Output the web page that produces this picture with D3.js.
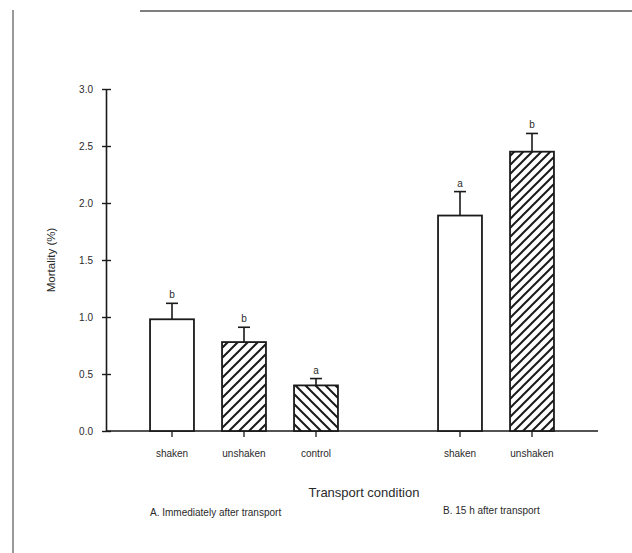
<!DOCTYPE html>
<html>
<head>
<meta charset="utf-8">
<script src="https://cdn.jsdelivr.net/npm/d3@7"></script>
<style>
    body { margin: 0; background: #fff; }
    svg { display: block; }
    text { font-family: "Liberation Sans", Arial, sans-serif; fill: #2a2a2a; }
</style>
</head>
<body>
<div id="chart"></div>
<script>
// data
var categories = ['A-shaken', 'A-unshaken', 'A-control', 'gap', 'B-shaken', 'B-unshaken'];
var catLabels  = ['shaken', 'unshaken', 'control', '', 'shaken', 'unshaken'];
var mortality  = [0.98, 0.78, 0.40, null, 1.89, 2.45];
var errTop     = [1.12, 0.91, 0.46, null, 2.10, 2.61];
var letters    = ['b', 'b', 'a', '', 'a', 'b'];
var fills      = ['none', 'hatchR', 'hatchL', '', 'none', 'hatchR2'];
var yTicks     = [0, 0.5, 1.0, 1.5, 2.0, 2.5, 3.0];
var groupNotes = ['A. Immediately after transport', 'B. 15 h after transport'];

var W = 632, H = 553;
var svg = d3.select('#chart').append('svg')
    .attr('width', W)
    .attr('height', H);

// scan frame (left page edge, top rule)
svg.append('line')
    .attr('x1', 13).attr('x2', 13).attr('y1', 10).attr('y2', H)
    .attr('stroke', '#999').attr('stroke-width', 2);
svg.append('line')
    .attr('x1', 140).attr('x2', W).attr('y1', 11).attr('y2', 11)
    .attr('stroke', '#555').attr('stroke-width', 1.5);

// hatch patterns
var defs = svg.append('defs');
function hatch(id, size, dir) {
    var p = defs.append('pattern')
        .attr('id', id)
        .attr('patternUnits', 'userSpaceOnUse')
        .attr('width', size).attr('height', size);
    p.append('rect').attr('width', size).attr('height', size).attr('fill', '#fff');
    var d = dir > 0
        ? 'M0,' + size + ' L' + size + ',0 M-2,2 L2,-2 M' + (size - 2) + ',' + (size + 2) + ' L' + (size + 2) + ',' + (size - 2)
        : 'M0,0 L' + size + ',' + size + ' M-2,' + (size - 2) + ' L2,' + (size + 2) + ' M' + (size - 2) + ',-2 L' + (size + 2) + ',2';
    p.append('path').attr('d', d).attr('stroke', '#1a1a1a').attr('stroke-width', 2);
}
hatch('hatchR', 10, 1);
hatch('hatchL', 10, -1);
hatch('hatchR2', 9, 1);

// scales
var y = d3.scaleLinear().domain([0, 3]).range([431, 89]);
var x = d3.scaleBand()
    .domain(categories)
    .range([136, 568])
    .paddingInner(0.39)
    .paddingOuter(0.195);

var axisX0 = 106, axisX1 = 598;

// y axis
var yAxis = svg.append('g')
    .attr('transform', 'translate(' + axisX0 + ',0)')
    .call(d3.axisLeft(y).tickValues(yTicks).tickFormat(d3.format('.1f'))
        .tickSizeInner(4).tickSizeOuter(0).tickPadding(9));
yAxis.select('.domain').attr('stroke', '#1a1a1a').attr('stroke-width', 1.6);
yAxis.selectAll('.tick line').attr('x2', 5).attr('x1', -4)
    .attr('stroke', '#1a1a1a').attr('stroke-width', 1.4);
yAxis.selectAll('.tick text').attr('font-size', 10).attr('fill', '#333')
    .style('font-family', '"Liberation Sans", Arial, sans-serif');

// x axis line and ticks
svg.append('line')
    .attr('x1', axisX0).attr('x2', axisX1)
    .attr('y1', y(0)).attr('y2', y(0))
    .attr('stroke', '#1a1a1a').attr('stroke-width', 1.6);

var cats = categories.map(function(c, i) {
    return { key: c, label: catLabels[i], v: mortality[i], e: errTop[i], letter: letters[i], fill: fills[i] };
}).filter(function(d) { return d.v !== null; });

svg.selectAll('.xtick')
    .data(cats).enter().append('line')
    .attr('class', 'xtick')
    .attr('x1', function(d) { return x(d.key) + x.bandwidth() / 2; })
    .attr('x2', function(d) { return x(d.key) + x.bandwidth() / 2; })
    .attr('y1', y(0)).attr('y2', y(0) + 6)
    .attr('stroke', '#1a1a1a').attr('stroke-width', 1.3);

svg.selectAll('.xlabel')
    .data(cats).enter().append('text')
    .attr('class', 'xlabel')
    .attr('x', function(d) { return x(d.key) + x.bandwidth() / 2; })
    .attr('y', 457)
    .attr('text-anchor', 'middle')
    .attr('font-size', 10)
    .text(function(d) { return d.label; });

// error bars
var err = svg.append('g');
cats.forEach(function(d) {
    var cx = x(d.key) + x.bandwidth() / 2;
    err.append('line')
        .attr('x1', cx).attr('x2', cx)
        .attr('y1', y(d.v)).attr('y2', y(d.e))
        .attr('stroke', '#1a1a1a').attr('stroke-width', 1.6);
    err.append('line')
        .attr('x1', cx - 6).attr('x2', cx + 6)
        .attr('y1', y(d.e)).attr('y2', y(d.e))
        .attr('stroke', '#1a1a1a').attr('stroke-width', 1.6);
    err.append('text')
        .attr('x', cx).attr('y', y(d.e) - 5)
        .attr('text-anchor', 'middle')
        .attr('font-size', 10)
        .text(d.letter);
});

// bars
svg.selectAll('.bar')
    .data(cats).enter().append('rect')
    .attr('class', 'bar')
    .attr('x', function(d) { return x(d.key); })
    .attr('y', function(d) { return y(d.v); })
    .attr('width', x.bandwidth())
    .attr('height', function(d) { return y(0) - y(d.v); })
    .attr('fill', function(d) { return d.fill === 'none' ? '#fff' : 'url(#' + d.fill + ')'; })
    .attr('stroke', '#1a1a1a')
    .attr('stroke-width', 1.8);

// titles
svg.append('text')
    .attr('transform', 'translate(55,260) rotate(-90)')
    .attr('text-anchor', 'middle')
    .attr('font-size', 11.5)
    .text('Mortality (%)');

svg.append('text')
    .attr('x', 364).attr('y', 497)
    .attr('text-anchor', 'middle')
    .attr('font-size', 13)
    .text('Transport condition');

svg.append('text')
    .attr('x', 150).attr('y', 516)
    .attr('font-size', 10)
    .text(groupNotes[0]);
svg.append('text')
    .attr('x', 443).attr('y', 514)
    .attr('font-size', 10)
    .text(groupNotes[1]);
</script>
</body>
</html>
